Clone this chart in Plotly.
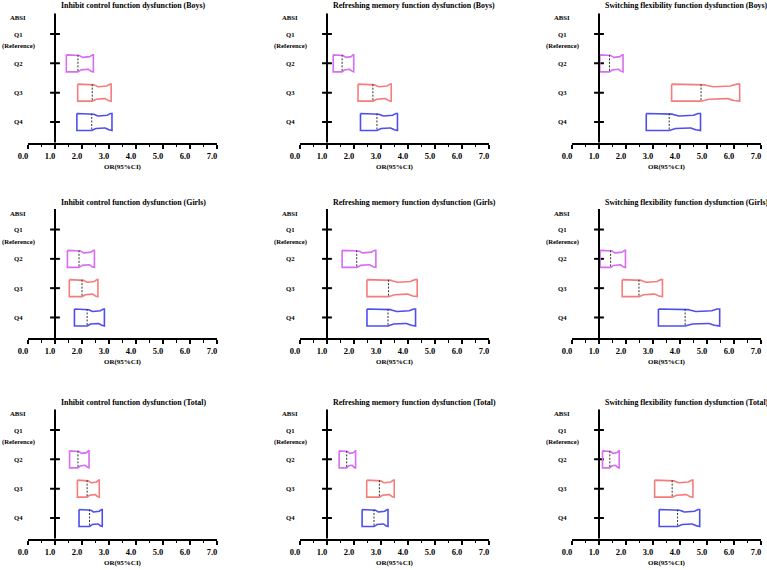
import numpy as np
import plotly.graph_objects as go

W, H_PX = 767, 570

quartiles = ["Q2", "Q3", "Q4"]
quartile_pos = [1, 2, 3]
ref_label_pos = 0  # Q1 (reference)
outcomes = ["Inhibit control function dysfunction",
            "Refreshing memory function dysfunction",
            "Switching flexibility function dysfunction"]
groups = ["Boys", "Girls", "Total"]
x_ticks = [0, 1, 2, 3, 4, 5, 6, 7]

# OR and 95% CI for Q2, Q3, Q4
boys_inhibit_lo = [1.42, 1.84, 1.81]
boys_inhibit_or = [1.85, 2.38, 2.36]
boys_inhibit_hi = [2.42, 3.08, 3.11]
boys_refresh_lo = [1.23, 2.15, 2.24]
boys_refresh_or = [1.56, 2.70, 2.85]
boys_refresh_hi = [1.99, 3.38, 3.61]
boys_switch_lo = [1.03, 3.69, 2.75]
boys_switch_or = [1.39, 4.78, 3.60]
boys_switch_hi = [1.89, 6.21, 4.76]

girls_inhibit_lo = [1.46, 1.53, 1.72]
girls_inhibit_or = [1.89, 2.00, 2.19]
girls_inhibit_hi = [2.46, 2.59, 2.83]
girls_refresh_lo = [1.56, 2.48, 2.48]
girls_refresh_or = [2.10, 3.28, 3.26]
girls_refresh_hi = [2.81, 4.34, 4.28]
girls_switch_lo = [1.04, 1.86, 3.20]
girls_switch_or = [1.43, 2.48, 4.19]
girls_switch_hi = [1.98, 3.35, 5.47]

total_inhibit_lo = [1.54, 1.83, 1.89]
total_inhibit_or = [1.85, 2.19, 2.28]
total_inhibit_hi = [2.26, 2.64, 2.75]
total_refresh_lo = [1.45, 2.47, 2.30]
total_refresh_or = [1.73, 2.94, 2.74]
total_refresh_hi = [2.06, 3.49, 3.26]
total_switch_lo = [1.13, 3.06, 3.23]
total_switch_or = [1.40, 3.71, 3.91]
total_switch_hi = [1.75, 4.48, 4.73]

panels = [
    [(boys_inhibit_lo, boys_inhibit_or, boys_inhibit_hi),
     (boys_refresh_lo, boys_refresh_or, boys_refresh_hi),
     (boys_switch_lo, boys_switch_or, boys_switch_hi)],
    [(girls_inhibit_lo, girls_inhibit_or, girls_inhibit_hi),
     (girls_refresh_lo, girls_refresh_or, girls_refresh_hi),
     (girls_switch_lo, girls_switch_or, girls_switch_hi)],
    [(total_inhibit_lo, total_inhibit_or, total_inhibit_hi),
     (total_refresh_lo, total_refresh_or, total_refresh_hi),
     (total_switch_lo, total_switch_or, total_switch_hi)],
]

colors = ["#D86CF2", "#F67C7C", "#4E4EF0"]
FONT = "Liberation Serif"

# pixel layout
col_px = [(28, 217), (300, 489), (572, 761)]
row_px = [(13.5, 142.5), (209, 338), (409.5, 538.5)]
title_py = [5, 202, 402]


def smooth(u):
    u = np.clip(u, 0, 1)
    return u * u * (3 - 2 * u)


def notch_shape(lo, med, hi, yc, half=0.29, depth=0.3, n=40):
    t = np.linspace(0, 1, n)
    xr = med + t * (hi - med)
    bump = smooth(t / 0.3) * smooth((0.93 - t) / 0.25)
    hh = half * (1 - depth * bump)
    xs = [lo] + list(xr) + list(xr[::-1]) + [lo, lo]
    ys = [yc - half] + list(yc - hh) + list((yc + hh)[::-1]) + [yc + half, yc - half]
    return xs, ys


fig = go.Figure()
layout = dict(template="none", width=W, height=H_PX,
              margin=dict(l=0, r=0, t=0, b=0, pad=0, autoexpand=False),
              paper_bgcolor="white", plot_bgcolor="white", showlegend=False)
annotations = []
shapes = []

for r in range(3):
    for c in range(3):
        idx = r * 3 + c + 1
        xa = "x" if idx == 1 else f"x{idx}"
        ya = "y" if idx == 1 else f"y{idx}"
        xk = "xaxis" if idx == 1 else f"xaxis{idx}"
        yk = "yaxis" if idx == 1 else f"yaxis{idx}"
        x0, x1 = col_px[c]
        y0, y1 = row_px[r]
        layout[xk] = dict(domain=[x0 / W, x1 / W], anchor=ya, range=[0, 7],
                          tickvals=x_ticks, tickformat=".1f", automargin=False,
                          showline=True, linecolor="black", linewidth=2,
                          ticks="outside", ticklen=4, tickwidth=1.5, tickcolor="black",
                          minor=dict(dtick=0.5, ticks="outside", ticklen=2.5,
                                     tickwidth=1.2, tickcolor="black", showgrid=False),
                          showgrid=False, zeroline=False, ticklabelshift=-5,
                          tickfont=dict(family=FONT, size=8.5, color="black", weight="bold"))
        layout[yk] = dict(domain=[1 - y1 / H_PX, 1 - y0 / H_PX], anchor=xa, automargin=False,
                          range=[3.7, -0.7], visible=False, showgrid=False, zeroline=False)

        # reference line at OR = 1
        shapes.append(dict(type="line", xref=xa, yref=f"{ya} domain", x0=1, x1=1,
                           y0=0, y1=1, line=dict(color="black", width=2)))
        # ticks on the reference line
        fig.add_trace(go.Scatter(x=[1] * 4, y=[ref_label_pos] + quartile_pos, xaxis=xa, yaxis=ya,
                                 mode="markers", hoverinfo="skip",
                                 marker=dict(symbol="line-ew", size=7,
                                             line=dict(color="black", width=2))))
        lo_l, or_l, hi_l = panels[r][c]
        for k in range(3):
            xs, ys = notch_shape(lo_l[k], or_l[k], hi_l[k], quartile_pos[k])
            fig.add_trace(go.Scatter(x=xs, y=ys, xaxis=xa, yaxis=ya, mode="lines",
                                     line=dict(color=colors[k], width=1.6),
                                     hoverinfo="skip"))
            fig.add_trace(go.Scatter(x=[or_l[k], or_l[k]],
                                     y=[quartile_pos[k] - 0.29, quartile_pos[k] + 0.29],
                                     xaxis=xa, yaxis=ya, mode="lines",
                                     line=dict(color="#333333", width=1, dash="2px,1.5px"),
                                     hoverinfo="skip"))
        # category labels
        lab_txt = ["ABSI", "Q1", "(Reference)"] + quartiles
        lab_y = [-0.56, ref_label_pos, 0.42] + quartile_pos
        for t, yv in zip(lab_txt, lab_y):
            annotations.append(dict(text=t, x=1, y=yv, xref=xa, yref=ya, xshift=-37,
                                    xanchor="center", yanchor="middle", showarrow=False,
                                    font=dict(family=FONT, size=6.7, color="black", weight="bold")))
        # panel title
        annotations.append(dict(text=f"{outcomes[c]} ({groups[r]})", x=1, xref=xa, xshift=4,
                                y=1 - title_py[r] / H_PX, yref="paper",
                                xanchor="left", yanchor="middle", showarrow=False,
                                font=dict(family=FONT, size=7.9, color="black", weight="bold")))
        # axis title
        annotations.append(dict(text="OR(95%CI)", x=0.5, xref=f"{xa} domain",
                                y=0, yref=f"{ya} domain", yshift=-24,
                                xanchor="center", yanchor="middle", showarrow=False,
                                font=dict(family=FONT, size=7, color="black", weight="bold")))

layout["annotations"] = annotations
layout["shapes"] = shapes
fig.update_layout(**layout)
fig.write_html("out.html")
